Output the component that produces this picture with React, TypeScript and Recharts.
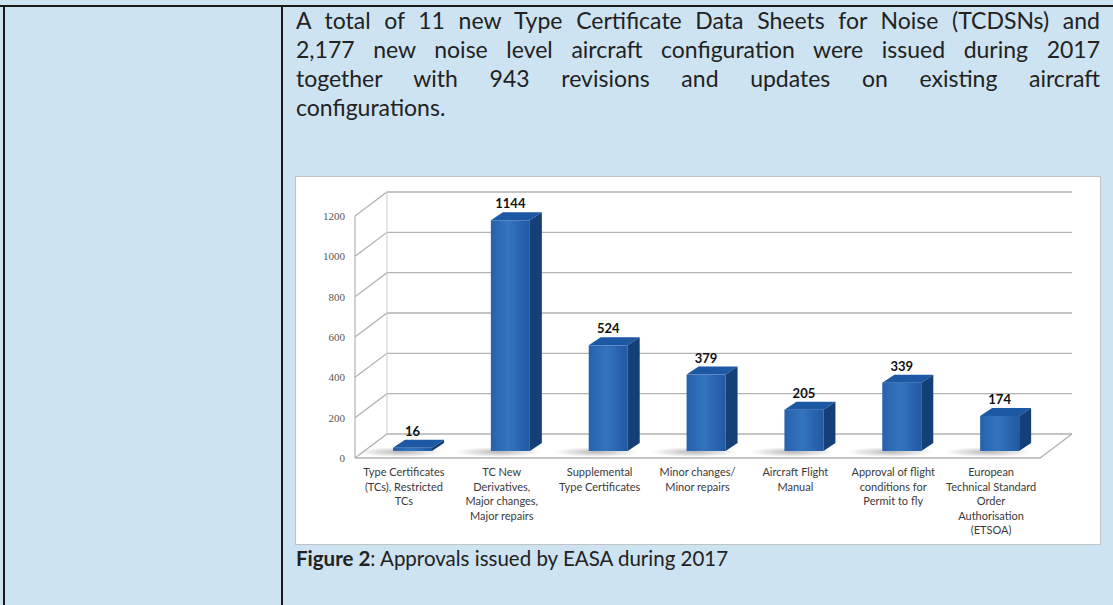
import React from "react";
import { BarChart, Bar, XAxis, YAxis, CartesianGrid, LabelList } from "recharts";

// Approvals issued by EASA during 2017
const categories = [
  "Type Certificates\n(TCs), Restricted\nTCs",
  "TC New\nDerivatives,\nMajor changes,\nMajor repairs",
  "Supplemental\nType Certificates",
  "Minor changes/\nMinor repairs",
  "Aircraft Flight\nManual",
  "Approval of flight\nconditions for\nPermit to fly",
  "European\nTechnical Standard\nOrder\nAuthorisation\n(ETSOA)",
];
const approvals = [16, 1144, 524, 379, 205, 339, 174];
const yTicks = [0, 200, 400, 600, 800, 1000, 1200];

const bodyLines = [
  "A total of 11 new Type Certificate Data Sheets for Noise (TCDSNs) and",
  "2,177 new noise level aircraft configuration were issued during 2017",
  "together with 943 revisions and updates on existing aircraft",
  "configurations.",
];

const data = categories.map((name, i) => ({ name, value: approvals[i] }));

// chart box layout
const CHART_W = 804;
const CHART_H = 367;
const PLOT_TOP = 39;
const PLOT_BOTTOM = 281;
const WALL_DX = 32; // depth of back wall
const WALL_DY = 24;
const BAR_SHIFT_X = 9; // bars sit a bit into the floor
const BAR_SHIFT_Y = 7;
const SIDE_DX = 12;
const SIDE_DY = 8;
const GRID = "#b3b3b3";

const GridLine = (props: any) => {
  const { x1, x2, y1 } = props;
  const isFloor = Math.abs(y1 - PLOT_BOTTOM) < 1;
  const isTop = Math.abs(y1 - PLOT_TOP) < 1;
  return (
    <g>
      <path
        d={`M${x1},${y1} L${x1 + WALL_DX},${y1 - WALL_DY} L${x2 + WALL_DX},${y1 - WALL_DY}`}
        fill="none"
        stroke={GRID}
        strokeWidth={1.3}
      />
      {isFloor && (
        <path
          d={`M${x1},${y1} L${x2},${y1} L${x2 + WALL_DX},${y1 - WALL_DY}`}
          fill="none"
          stroke={GRID}
          strokeWidth={1.3}
        />
      )}
      {isTop && (
        <>
          <line x1={x1} y1={PLOT_TOP} x2={x1} y2={PLOT_BOTTOM} stroke={GRID} strokeWidth={1.2} />
          <line
            x1={x1 + WALL_DX}
            y1={PLOT_TOP - WALL_DY}
            x2={x1 + WALL_DX}
            y2={PLOT_BOTTOM - WALL_DY}
            stroke="#cfcfcf"
            strokeWidth={1}
          />
        </>
      )}
    </g>
  );
};

const Bar3D = (props: any) => {
  const { x, y, width, height, index } = props;
  const fx = x + BAR_SHIFT_X;
  const fy = y - BAR_SHIFT_Y;
  const bottom = fy + height;
  const gid = `front-${index}`;
  const sid = `shadow-${index}`;
  return (
    <g>
      <defs>
        <linearGradient id={gid} x1="0" y1="0" x2="1" y2="0">
          <stop offset="0%" stopColor="#2761ab" />
          <stop offset="45%" stopColor="#3474c0" />
          <stop offset="100%" stopColor="#2258a2" />
        </linearGradient>
        <radialGradient id={sid}>
          <stop offset="0%" stopColor="#000" stopOpacity={0.28} />
          <stop offset="100%" stopColor="#000" stopOpacity={0} />
        </radialGradient>
      </defs>
      <ellipse cx={fx + width * 0.2} cy={bottom + 1} rx={width * 1.1} ry={5} fill={`url(#${sid})`} />
      <rect x={fx} y={fy} width={width} height={height} fill={`url(#${gid})`} />
      <polygon
        points={`${fx},${fy} ${fx + SIDE_DX},${fy - SIDE_DY} ${fx + width + SIDE_DX},${fy - SIDE_DY} ${fx + width},${fy}`}
        fill="#1c58a3"
      />
      <polygon
        points={`${fx + width},${fy} ${fx + width + SIDE_DX},${fy - SIDE_DY} ${fx + width + SIDE_DX},${bottom - SIDE_DY} ${fx + width},${bottom}`}
        fill="#153f77"
      />
    </g>
  );
};

const ValueLabel = (props: any) => {
  const { x, y, width, value } = props;
  return (
    <text
      x={x + width / 2 + BAR_SHIFT_X}
      y={y - BAR_SHIFT_Y - 12}
      textAnchor="middle"
      fontFamily="Lato, 'Open Sans', sans-serif"
      fontWeight={700}
      fontSize={13}
      fill="#111"
    >
      {value}
    </text>
  );
};

const CategoryTick = (props: any) => {
  const { x, y, payload } = props;
  const lines = String(payload.value).split("\n");
  return (
    <text
      x={x}
      y={y + 10}
      textAnchor="middle"
      fontFamily="Lato, 'Open Sans', sans-serif"
      fontSize={11}
      fill="#3a3a3a"
    >
      {lines.map((l, i) => (
        <tspan key={i} x={x} dy={i === 0 ? 0 : 14.6}>
          {l}
        </tspan>
      ))}
    </text>
  );
};

export default function App() {
  return (
    <div
      style={{
        position: "absolute",
        left: 0,
        top: 0,
        width: 1113,
        height: 605,
        overflow: "hidden",
        background: "#cde3f1",
        fontFamily: "Lato, 'Open Sans', sans-serif",
        color: "#222",
      }}
    >
      {/* table borders */}
      <div style={{ position: "absolute", left: 0, top: 5, width: 1113, height: 2, background: "#1a1a1a" }} />
      <div style={{ position: "absolute", left: 3, top: 5, width: 2, height: 600, background: "#1a1a1a" }} />
      <div style={{ position: "absolute", left: 281, top: 5, width: 2, height: 600, background: "#1a1a1a" }} />

      <div style={{ position: "absolute", left: 296, top: 6, width: 804, fontSize: 23, lineHeight: "29px" }}>
        {bodyLines.map((l, i) => (
          <div
            key={i}
            style={{
              textAlign: i < bodyLines.length - 1 ? "justify" : "left",
              textAlignLast: i < bodyLines.length - 1 ? "justify" : "left",
              whiteSpace: "normal",
            }}
          >
            {l}
          </div>
        ))}
      </div>

      <div
        style={{
          position: "absolute",
          left: 295,
          top: 176,
          width: CHART_W,
          height: CHART_H,
          border: "1px solid #c2c2c2",
          background: "#fff",
        }}
      >
        <BarChart
          width={CHART_W}
          height={CHART_H}
          data={data}
          margin={{ top: PLOT_TOP, right: 60, bottom: 26, left: 9 }}
        >
          <CartesianGrid vertical={false} horizontal={GridLine} />
          <XAxis dataKey="name" axisLine={false} tickLine={false} height={60} interval={0} tick={CategoryTick} />
          <YAxis
            domain={[0, 1200]}
            ticks={yTicks}
            axisLine={false}
            tickLine={false}
            width={50}
            tickMargin={4}
            tick={{ fontFamily: "'Liberation Serif', serif", fontSize: 11, fill: "#555" }}
          />
          <Bar dataKey="value" barSize={39} shape={Bar3D} isAnimationActive={false}>
            <LabelList dataKey="value" content={ValueLabel} />
          </Bar>
        </BarChart>
      </div>

      <div style={{ position: "absolute", left: 296, top: 546, fontSize: 20.5, lineHeight: "24px", whiteSpace: "nowrap" }}>
        <b>Figure 2</b>: Approvals issued by EASA during 2017
      </div>
    </div>
  );
}
